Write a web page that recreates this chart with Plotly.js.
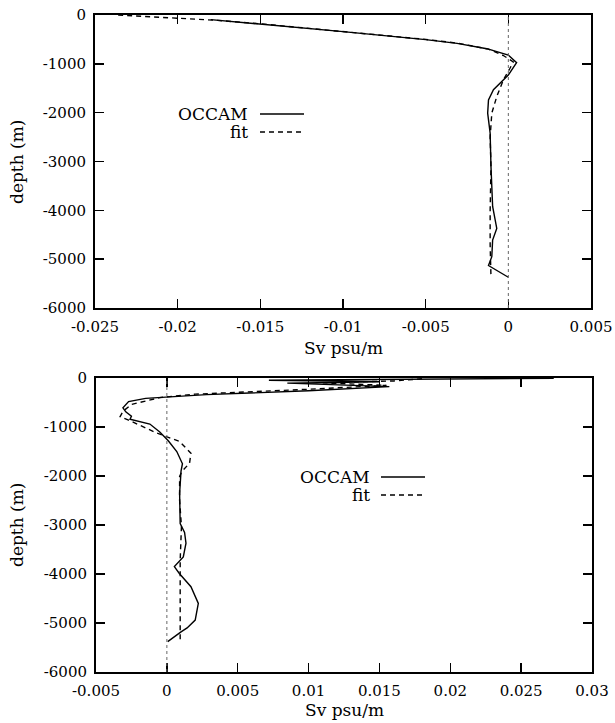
<!DOCTYPE html>
<html>
<head>
<meta charset="utf-8">
<script src="https://cdn.plot.ly/plotly-3.0.1.min.js"></script>
<style>html,body{margin:0;padding:0;background:#fff;}#chart{width:615px;height:723px;}</style>
</head>
<body>
<div id="chart"></div>
<script>
// ---- Data ----
// Top panel
const topOccamX = [-0.0180, -0.0150, -0.0100, -0.0050, -0.0031, -0.0013, -0.0004, 0.0000, 0.0005, 0.0000, -0.0009, -0.0012, -0.00125, -0.0011, -0.00105, -0.00095, -0.0007, -0.00095, -0.0010, -0.0012, 0.0000];
const topOccamY = [-95, -185, -340, -505, -580, -690, -780, -820, -975, -1230, -1530, -1740, -2010, -2420, -3100, -3920, -4370, -4610, -4950, -5130, -5370];
const topFitX = [-0.0236, -0.0200, -0.0176, -0.0150, -0.0100, -0.0050, -0.0030, -0.0012, -0.0003, 0.0003, 0.0001, -0.0003, -0.0007, -0.0010, -0.0011, -0.00105, -0.0011, -0.0011, -0.00105];
const topFitY = [0, -60, -110, -180, -335, -500, -580, -700, -830, -960, -1090, -1330, -1670, -2010, -2500, -3100, -4000, -4700, -5360];
// Bottom panel
const botOccamX = [0.0273, 0.0072, 0.0150, 0.0085, 0.0157, 0.0100, 0.0028, -0.0015, -0.0027, -0.0031, -0.0029, -0.0025, -0.0026, -0.0012, -0.0005, 0.0001, 0.0007, 0.0011, 0.0010, 0.0009, 0.00094, 0.00125, 0.00135, 0.00116, 0.00053, 0.00088, 0.0017, 0.00222, 0.0020, 0.00143, 0.0010, 0.00006];
const botOccamY = [-5, -45, -75, -105, -177, -260, -340, -415, -480, -610, -690, -780, -840, -940, -1100, -1280, -1500, -1750, -1900, -2350, -2970, -3150, -3370, -3650, -3850, -3990, -4260, -4600, -4940, -5100, -5180, -5380];
const botFitX = [0.0180, 0.0160, 0.0110, 0.0155, 0.0100, 0.0020, -0.0005, -0.0025, -0.0031, -0.0033, -0.0027, -0.0007, 0.0009, 0.0017, 0.0016, 0.00105, 0.0009, 0.0009, 0.00103, 0.00094, 0.00094];
const botFitY = [-15, -60, -100, -150, -230, -330, -400, -540, -680, -790, -860, -1125, -1295, -1535, -1740, -1910, -2010, -2500, -3030, -3720, -5386];

// Ticks
const topXTicks = [-0.025, -0.02, -0.015, -0.01, -0.005, 0, 0.005];
const topXText = ["-0.025", "-0.02", "-0.015", "-0.01", "-0.005", "0", "0.005"];
const botXTicks = [-0.005, 0, 0.005, 0.01, 0.015, 0.02, 0.025, 0.03];
const botXText = ["-0.005", "0", "0.005", "0.01", "0.015", "0.02", "0.025", "0.03"];
const yTicks = [0, -1000, -2000, -3000, -4000, -5000, -6000];
const yText = ["0", "-1000", "-2000", "-3000", "-4000", "-5000", "-6000"];

const seriesNames = ["OCCAM", "fit"];
const xTitle = "Sv psu/m";
const yTitle = "depth (m)";

// ---- Layout helpers ----
const W = 615, H = 723;
const FONT = "DejaVu Serif, Liberation Serif, serif";
const px = v => v / W;
const py = v => 1 - v / H;

const solid = {color: '#000', width: 1.4};
const dashed = {color: '#000', width: 1.4, dash: '5px,4px'};

const traces = [
  {x: topOccamX, y: topOccamY, xaxis: 'x', yaxis: 'y', mode: 'lines', line: solid, name: seriesNames[0], showlegend: false},
  {x: topFitX, y: topFitY, xaxis: 'x', yaxis: 'y', mode: 'lines', line: dashed, name: seriesNames[1], showlegend: false},
  {x: botOccamX, y: botOccamY, xaxis: 'x2', yaxis: 'y2', mode: 'lines', line: solid, name: seriesNames[0], showlegend: false},
  {x: botFitX, y: botFitY, xaxis: 'x2', yaxis: 'y2', mode: 'lines', line: dashed, name: seriesNames[1], showlegend: false}
];

function xAxis(domain, range, vals, text, anchor) {
  return {
    domain: domain, range: range, anchor: anchor,
    tickmode: 'array', tickvals: vals, ticktext: text,
    ticks: 'inside', ticklen: 9, tickwidth: 1.5, tickcolor: '#000',
    mirror: 'allticks', showline: true, linecolor: '#000', linewidth: 2,
    showgrid: false, zeroline: false,
    ticklabelstandoff: 4,
    tickfont: {family: FONT, size: 15, color: '#000'}
  };
}
function yAxis(domain, anchor) {
  return {
    domain: domain, range: [-6000, 0], anchor: anchor,
    tickmode: 'array', tickvals: yTicks, ticktext: yText,
    ticks: 'inside', ticklen: 9, tickwidth: 1.5, tickcolor: '#000',
    mirror: 'allticks', showline: true, linecolor: '#000', linewidth: 2,
    showgrid: false, zeroline: false,
    ticklabelstandoff: 4,
    tickfont: {family: FONT, size: 15, color: '#000'}
  };
}

const textFont = {family: FONT, size: 17, color: '#000'};

function legendBlock(xRight, yTop, lineX0, lineX1) {
  const ann = [], shp = [];
  seriesNames.forEach((n, i) => {
    const yy = yTop + i * 18;
    ann.push({xref: 'paper', yref: 'paper', x: px(xRight), y: py(yy), text: n, showarrow: false,
      xanchor: 'right', yanchor: 'middle', font: textFont});
    shp.push({type: 'line', xref: 'paper', yref: 'paper', x0: px(lineX0), x1: px(lineX1), y0: py(yy), y1: py(yy),
      line: i === 0 ? {color: '#000', width: 1.4} : {color: '#000', width: 1.4, dash: '5px,4px'}});
  });
  return {ann, shp};
}

const lgTop = legendBlock(250, 114, 260, 304);
const lgBot = legendBlock(372, 477, 381, 425);

const layout = {
  width: W, height: H,
  margin: {l: 0, r: 0, t: 0, b: 0},
  paper_bgcolor: '#fff', plot_bgcolor: '#fff',
  showlegend: false,
  xaxis: xAxis([px(95), px(591)], [-0.025, 0.005], topXTicks, topXText, 'y'),
  yaxis: yAxis([py(308), py(15)], 'x'),
  xaxis2: xAxis([px(96), px(592)], [-0.005, 0.03], botXTicks, botXText, 'y2'),
  yaxis2: yAxis([py(672), py(378)], 'x2'),
  shapes: [
    {type: 'line', xref: 'x', yref: 'y domain', x0: 0, x1: 0, y0: 0, y1: 1, line: {color: '#666', width: 1, dash: 'dot'}},
    {type: 'line', xref: 'x2', yref: 'y2 domain', x0: 0, x1: 0, y0: 0, y1: 1, line: {color: '#666', width: 1, dash: 'dot'}}
  ].concat(lgTop.shp, lgBot.shp),
  annotations: [
    {xref: 'paper', yref: 'paper', x: px(343), y: py(348), text: xTitle, showarrow: false, xanchor: 'center', yanchor: 'middle', font: textFont},
    {xref: 'paper', yref: 'paper', x: px(344), y: py(710), text: xTitle, showarrow: false, xanchor: 'center', yanchor: 'middle', font: textFont},
    {xref: 'paper', yref: 'paper', x: px(17), y: py(162), text: yTitle, showarrow: false, textangle: -90, xanchor: 'center', yanchor: 'middle', font: textFont},
    {xref: 'paper', yref: 'paper', x: px(17), y: py(525), text: yTitle, showarrow: false, textangle: -90, xanchor: 'center', yanchor: 'middle', font: textFont}
  ].concat(lgTop.ann, lgBot.ann)
};

Plotly.newPlot('chart', traces, layout, {displayModeBar: false, staticPlot: true});
</script>
</body>
</html>
